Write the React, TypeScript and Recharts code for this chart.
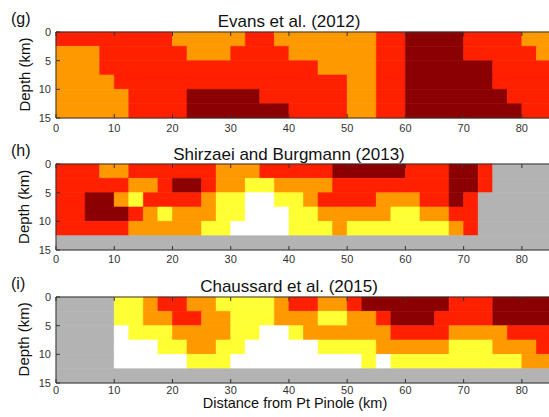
import React from "react";
import { ComposedChart, XAxis, YAxis, ReferenceArea } from "recharts";

// cells are 2.5 km wide and 2.5 km deep
const CELL = 2.5;

const xTicks = [0, 10, 20, 30, 40, 50, 60, 70, 80];
const depthTicks = [0, 5, 10, 15];

const COLORS: Record<string, string> = {
  D: "#8b0000",
  R: "#ff2000",
  O: "#ff9900",
  Y: "#ffff33",
  W: "#ffffff",
  G: "#b3b3b3",
};

// one string per depth row (0-2.5, 2.5-5, ...), runs of cells from x = 0
const evansRows = [
  "R8 O5 R2 O7 R2 D4 R4 O2",
  "O3 R6 O3 R4 O6 R2 D4 R5 O1",
  "O3 R15 O4 R2 D6 R4",
  "O4 R16 O2 R2 D6 R4",
  "O5 R4 D5 R6 O2 R2 D7 R3",
  "O5 R4 D7 R4 O2 R2 D8 R2",
];

const shirzaeiRows = [
  "R3 O2 R6 O3 R5 D5 R3 D2 R1 G4",
  "R5 O2 R1 D2 R1 O2 Y2 O4 R8 D2 R1 G4",
  "R2 D2 O1 Y1 R4 O1 Y2 W2 Y2 O1 R4 O3 R2 D1 R1 G5",
  "R2 D3 R1 O1 Y1 O3 Y2 W3 Y2 O5 Y2 O2 R2 G5",
  "R5 O5 Y2 W4 Y3 O1 Y7 O1 R1 G5",
  "G34",
];

const chaussardRows = [
  "G4 Y2 O1 R2 O2 Y4 O1 R2 O2 R1 D6 R3 D4",
  "G4 Y2 O2 R2 O2 Y3 O3 Y2 O2 R1 D3 R4 D4",
  "G4 W1 Y3 O4 Y2 W2 Y1 O6 R4 O4 R3",
  "G4 W3 Y2 O2 Y2 W5 Y4 O5 Y3 O3 R1",
  "G4 W5 Y3 W9 Y1 W1 Y9 O2",
  "G34",
];

const panelTitles = ["Evans et al. (2012)", "Shirzaei and Burgmann (2013)", "Chaussard et al. (2015)"];
const panelLetters = ["(g)", "(h)", "(i)"];

const FONT = "'Liberation Sans', Arial, sans-serif";
const AXIS = "#333";
const PLOT_LEFT = 56;
const PLOT_W = 495;
const PLOT_H = 87;
const M_TOP = 6;
const X_AXIS_H = 24;
const panelTops = [31, 163.3, 295.8];
// distance from the axis line to the tick label baseline
const tickGaps = [13.5, 12.5, 10.5];

type Area = { x1: number; x2: number; y1: number; y2: number; fill: string };

function toAreas(rows: string[]) {
  const out: Area[] = [];
  rows.forEach((row, r) => {
    let col = 0;
    row.split(" ").forEach((tok) => {
      const n = Number(tok.slice(1));
      out.push({
        x1: col * CELL,
        x2: (col + n) * CELL,
        y1: r * CELL,
        y2: (r + 1) * CELL,
        fill: COLORS[tok[0]],
      });
      col += n;
    });
  });
  return out;
}

const BottomTick = (props: any) => {
  const { x, y, payload, gap } = props;
  return (
    <g>
      <line x1={x} x2={x} y1={y} y2={y - 4} stroke={AXIS} />
      <text x={x} y={y + gap} textAnchor="middle" fontSize={11} fill="#333" fontFamily={FONT}>
        {payload.value}
      </text>
    </g>
  );
};

const TopTick = (props: any) => {
  const { x, y } = props;
  return <line x1={x} x2={x} y1={y} y2={y + 4} stroke={AXIS} />;
};

const LeftTick = (props: any) => {
  const { x, y, payload } = props;
  return (
    <g>
      <line x1={x} x2={x + 4} y1={y} y2={y} stroke={AXIS} />
      <text x={x - 5} y={y + 4} textAnchor="end" fontSize={11} fill="#333" fontFamily={FONT}>
        {payload.value}
      </text>
    </g>
  );
};

function Panel({ rows, top, gap }: { rows: string[]; top: number; gap: number }) {
  const areas = toAreas(rows);
  return (
    <div style={{ position: "absolute", left: 0, top: top - M_TOP }}>
      <ComposedChart
        width={PLOT_LEFT + PLOT_W}
        height={M_TOP + PLOT_H + X_AXIS_H}
        margin={{ top: M_TOP, right: 0, bottom: 0, left: 0 }}
        data={areas}
      >
        <XAxis
          dataKey="x1"
          type="number"
          domain={[0, 85]}
          ticks={xTicks}
          interval={0}
          allowDataOverflow
          height={X_AXIS_H}
          tickSize={0}
          tickMargin={0}
          tickLine={false}
          axisLine={{ stroke: AXIS }}
          tick={(p: any) => <BottomTick {...p} gap={gap} />}
        />
        <XAxis
          xAxisId="top"
          dataKey="x1"
          orientation="top"
          type="number"
          domain={[0, 85]}
          ticks={xTicks}
          interval={0}
          allowDataOverflow
          height={1}
          tickSize={0}
          tickMargin={0}
          tickLine={false}
          axisLine={{ stroke: AXIS }}
          tick={(p: any) => <TopTick {...p} />}
        />
        <YAxis
          dataKey="y1"
          type="number"
          domain={[0, 15]}
          ticks={depthTicks}
          interval={0}
          reversed
          allowDataOverflow
          width={PLOT_LEFT}
          tickSize={0}
          tickMargin={0}
          tickLine={false}
          axisLine={{ stroke: AXIS }}
          tick={(p: any) => <LeftTick {...p} />}
        />
        {areas.map((a, i) => (
          <ReferenceArea
            key={i}
            x1={a.x1}
            x2={a.x2}
            y1={a.y1}
            y2={a.y2}
            fill={a.fill}
            fillOpacity={1}
            stroke={a.fill}
            strokeWidth={0.6}
            ifOverflow="visible"
          />
        ))}
      </ComposedChart>
    </div>
  );
}

export default function App() {
  const panels = [evansRows, shirzaeiRows, chaussardRows];
  return (
    <div
      style={{
        position: "absolute",
        left: 0,
        top: 0,
        width: 549,
        height: 417,
        overflow: "hidden",
        background: "#fff",
      }}
    >
      {panels.map((rows, i) => (
        <Panel key={i} rows={rows} top={panelTops[i]} gap={tickGaps[i]} />
      ))}
      <svg
        width={549}
        height={417}
        style={{ position: "absolute", left: 0, top: 0, pointerEvents: "none" }}
        fontFamily={FONT}
      >
        {panelTops.map((t, i) => (
          <g key={i}>
            <text x={289} y={t - 3.7} textAnchor="middle" fontSize={17} fill="#111">
              {panelTitles[i]}
            </text>
            <text x={11} y={t - 7} fontSize={16} fill="#111">
              {panelLetters[i]}
            </text>
            <text
              x={29.5}
              y={t + PLOT_H / 2}
              textAnchor="middle"
              fontSize={15}
              fill="#111"
              transform={`rotate(-90 29.5 ${t + PLOT_H / 2})`}
            >
              Depth (km)
            </text>
          </g>
        ))}
        <text x={295} y={408} textAnchor="middle" fontSize={14.5} fill="#111">
          Distance from Pt Pinole (km)
        </text>
      </svg>
    </div>
  );
}
